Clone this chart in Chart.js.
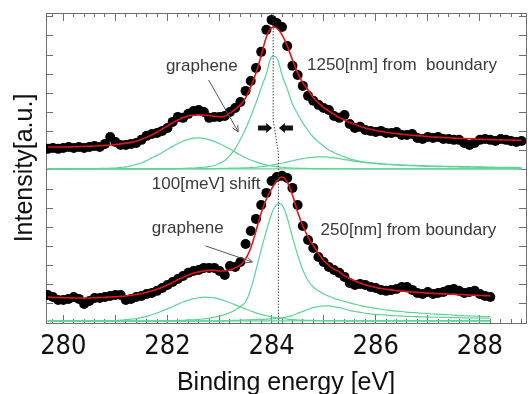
<!DOCTYPE html>
<html>
<head>
<meta charset="utf-8">
<script src="https://cdn.jsdelivr.net/npm/chart.js@4.4.1/dist/chart.umd.min.js"></script>
<style>
  html, body { margin: 0; padding: 0; background: #fff; }
</style>
</head>
<body>
<canvas id="xps" width="531" height="394"></canvas>
<script>
// binding energy grid [eV] (bottom spectrum uses the first 86 points)
var energy = [
  279.7, 279.8, 279.9, 280.0, 280.1, 280.2, 280.3, 280.4, 280.5, 280.6,
  280.7, 280.8, 280.9, 281.0, 281.1, 281.2, 281.3, 281.4, 281.5, 281.6,
  281.7, 281.8, 281.9, 282.0, 282.1, 282.2, 282.3, 282.4, 282.5, 282.6,
  282.7, 282.8, 282.9, 283.0, 283.1, 283.2, 283.3, 283.4, 283.5, 283.6,
  283.7, 283.8, 283.9, 284.0, 284.1, 284.2, 284.3, 284.4, 284.5, 284.6,
  284.7, 284.8, 284.9, 285.0, 285.1, 285.2, 285.3, 285.4, 285.5, 285.6,
  285.7, 285.8, 285.9, 286.0, 286.1, 286.2, 286.3, 286.4, 286.5, 286.6,
  286.7, 286.8, 286.9, 287.0, 287.1, 287.2, 287.3, 287.4, 287.5, 287.6,
  287.7, 287.8, 287.9, 288.0, 288.1, 288.2, 288.3, 288.4, 288.5, 288.6,
  288.7, 288.8
];

// 1250 nm from boundary (upper spectrum)
var topDots = [
  9.10, 9.15, 9.10, 9.15, 9.20, 9.15, 9.20, 9.15, 9.20, 9.25,
  9.20, 9.36, 9.72, 9.46, 9.30, 9.30, 9.36, 9.41, 9.57, 9.78,
  9.88, 9.93, 10.04, 10.19, 10.51, 10.77, 10.72, 10.93, 11.08, 11.13,
  11.03, 10.72, 10.77, 10.77, 10.82, 11.03, 11.24, 11.55, 12.13, 12.65,
  13.33, 14.17, 15.32, 15.84, 15.68, 15.47, 14.48, 13.44, 12.96, 12.39,
  11.87, 11.61, 11.40, 11.24, 11.13, 10.82, 10.72, 10.87, 10.40, 10.19,
  10.25, 10.09, 10.04, 9.98, 10.04, 9.93, 9.93, 9.98, 9.83, 9.83,
  9.88, 9.67, 9.62, 9.72, 9.67, 9.72, 9.62, 9.62, 9.57, 9.57,
  9.41, 9.30, 9.41, 9.57, 9.62, 9.57, 9.51, 9.62, 9.57, 9.51,
  9.46, 9.51
];
var topFit = [
  9.20, 9.20, 9.20, 9.20, 9.20, 9.21, 9.22, 9.23, 9.24, 9.25,
  9.26, 9.28, 9.30, 9.33, 9.36, 9.40, 9.44, 9.50, 9.59, 9.70,
  9.83, 9.98, 10.14, 10.30, 10.46, 10.61, 10.74, 10.82, 10.86, 10.87,
  10.86, 10.84, 10.80, 10.78, 10.80, 10.97, 11.17, 11.40, 11.76, 12.34,
  13.07, 13.96, 14.95, 15.43, 15.41, 15.06, 14.48, 13.75, 13.07, 12.55,
  12.18, 11.79, 11.50, 11.26, 11.08, 10.90, 10.74, 10.61, 10.48, 10.38,
  10.28, 10.19, 10.13, 10.06, 10.01, 9.97, 9.93, 9.90, 9.86, 9.84,
  9.81, 9.79, 9.77, 9.75, 9.72, 9.71, 9.69, 9.68, 9.66, 9.65,
  9.64, 9.63, 9.61, 9.60, 9.59, 9.58, 9.58, 9.57, 9.56, 9.56,
  9.55, 9.55
];
var topGraphene = [
  8.05, 8.05, 8.05, 8.05, 8.05, 8.06, 8.06, 8.06, 8.07, 8.07,
  8.08, 8.08, 8.09, 8.10, 8.13, 8.16, 8.21, 8.29, 8.36, 8.49,
  8.63, 8.76, 8.91, 9.07, 9.23, 9.37, 9.50, 9.59, 9.66, 9.67,
  9.65, 9.58, 9.49, 9.37, 9.24, 9.09, 8.93, 8.78, 8.64, 8.52,
  8.42, 8.33, 8.26, 8.21, 8.17, 8.14, 8.11, 8.10, 8.09, 8.08,
  8.08, 8.07, 8.07, 8.06, 8.06, 8.06, 8.06, 8.06, 8.06, 8.05,
  8.05, 8.05, 8.05, 8.05, 8.05, 8.05, 8.05, 8.05, 8.05, 8.05,
  8.05, 8.05, 8.05, 8.05, 8.05, 8.05, 8.05, 8.05, 8.05, 8.05,
  8.05, 8.05, 8.05, 8.05, 8.05, 8.05, 8.05, 8.05, 8.05, 8.05,
  8.05, 8.05
];
var topMain = [
  8.05, 8.05, 8.05, 8.05, 8.05, 8.05, 8.05, 8.05, 8.05, 8.05,
  8.05, 8.05, 8.05, 8.05, 8.05, 8.05, 8.05, 8.05, 8.05, 8.05,
  8.05, 8.05, 8.06, 8.06, 8.06, 8.07, 8.08, 8.09, 8.10, 8.12,
  8.14, 8.18, 8.23, 8.34, 8.49, 8.76, 9.10, 9.59, 10.14, 10.80,
  11.50, 12.29, 13.02, 13.91, 13.85, 12.96, 12.23, 11.45, 10.93, 10.46,
  10.06, 9.72, 9.46, 9.25, 9.04, 8.91, 8.78, 8.68, 8.58, 8.51,
  8.45, 8.41, 8.37, 8.34, 8.31, 8.29, 8.27, 8.26, 8.24, 8.23,
  8.22, 8.21, 8.20, 8.19, 8.18, 8.17, 8.17, 8.16, 8.16, 8.15,
  8.15, 8.14, 8.14, 8.13, 8.13, 8.12, 8.12, 8.11, 8.11, 8.11,
  8.10, 8.10
];
var topThird = [
  8.05, 8.05, 8.05, 8.05, 8.05, 8.05, 8.05, 8.05, 8.05, 8.05,
  8.05, 8.05, 8.05, 8.05, 8.05, 8.05, 8.05, 8.05, 8.05, 8.05,
  8.05, 8.05, 8.05, 8.05, 8.05, 8.06, 8.06, 8.06, 8.06, 8.06,
  8.07, 8.07, 8.07, 8.08, 8.08, 8.09, 8.09, 8.10, 8.11, 8.12,
  8.14, 8.17, 8.20, 8.24, 8.30, 8.35, 8.42, 8.48, 8.54, 8.59,
  8.64, 8.66, 8.68, 8.68, 8.66, 8.63, 8.59, 8.54, 8.50, 8.45,
  8.42, 8.38, 8.36, 8.34, 8.32, 8.30, 8.29, 8.27, 8.26, 8.25,
  8.24, 8.23, 8.22, 8.21, 8.20, 8.20, 8.19, 8.19, 8.18, 8.18,
  8.17, 8.17, 8.16, 8.16, 8.15, 8.15, 8.14, 8.14, 8.13, 8.13,
  8.12, 8.12
];

// 250 nm from boundary (lower spectrum)
var bottomDots = [
  1.46, 1.36, 1.20, 1.20, 1.26, 1.36, 1.26, 0.99, 1.15, 1.31,
  1.31, 1.36, 1.41, 1.46, 1.46, 1.20, 1.26, 1.36, 1.41, 1.52,
  1.57, 1.68, 1.83, 1.99, 2.14, 2.30, 2.46, 2.62, 2.72, 2.77,
  2.88, 2.88, 2.88, 2.72, 2.51, 2.98, 2.93, 3.19, 4.13, 4.81,
  5.44, 6.17, 6.80, 7.42, 7.63, 7.69, 7.58, 7.06, 6.17, 5.07,
  4.34, 3.92, 3.45, 3.19, 2.93, 2.77, 2.62, 2.41, 2.09, 1.99,
  2.04, 1.99, 1.88, 1.83, 1.73, 1.68, 1.73, 1.78, 1.88, 1.88,
  1.73, 1.57, 1.52, 1.62, 1.52, 1.57, 1.62, 1.73, 1.78, 1.68,
  1.57, 1.62, 1.68, 1.52, 1.41, 1.36
];
var bottomFit = [
  1.36, 1.34, 1.33, 1.32, 1.32, 1.31, 1.31, 1.31, 1.31, 1.32,
  1.33, 1.34, 1.36, 1.37, 1.39, 1.41, 1.45, 1.49, 1.54, 1.61,
  1.68, 1.76, 1.87, 1.99, 2.12, 2.26, 2.39, 2.51, 2.61, 2.67,
  2.72, 2.75, 2.75, 2.72, 2.72, 2.77, 2.88, 3.03, 3.35, 3.92,
  4.81, 5.75, 6.48, 7.00, 7.42, 7.63, 7.37, 6.69, 5.80, 5.07,
  4.50, 4.05, 3.64, 3.27, 3.01, 2.82, 2.67, 2.46, 2.33, 2.20,
  2.09, 2.00, 1.92, 1.86, 1.80, 1.76, 1.73, 1.69, 1.67, 1.64,
  1.62, 1.60, 1.58, 1.56, 1.55, 1.53, 1.52, 1.51, 1.50, 1.49,
  1.48, 1.46, 1.45, 1.44, 1.43, 1.42
];
var bottomGraphene = [
  0.10, 0.10, 0.10, 0.10, 0.10, 0.10, 0.10, 0.10, 0.10, 0.10,
  0.10, 0.10, 0.11, 0.13, 0.15, 0.17, 0.20, 0.23, 0.29, 0.35,
  0.43, 0.52, 0.63, 0.74, 0.86, 0.98, 1.10, 1.19, 1.27, 1.32,
  1.35, 1.34, 1.31, 1.25, 1.16, 1.06, 0.95, 0.84, 0.73, 0.63,
  0.53, 0.45, 0.38, 0.32, 0.27, 0.24, 0.20, 0.18, 0.16, 0.15,
  0.14, 0.13, 0.12, 0.12, 0.11, 0.11, 0.11, 0.10, 0.10, 0.10,
  0.10, 0.10, 0.10, 0.10, 0.10, 0.10, 0.10, 0.10, 0.10, 0.10,
  0.10, 0.10, 0.10, 0.10, 0.10, 0.10, 0.10, 0.10, 0.10, 0.10,
  0.10, 0.10, 0.10, 0.10, 0.10, 0.10
];
var bottomMain = [
  0.10, 0.10, 0.10, 0.10, 0.10, 0.10, 0.10, 0.10, 0.10, 0.10,
  0.10, 0.10, 0.10, 0.10, 0.10, 0.10, 0.10, 0.10, 0.10, 0.10,
  0.10, 0.10, 0.11, 0.11, 0.12, 0.13, 0.14, 0.16, 0.17, 0.19,
  0.22, 0.25, 0.30, 0.36, 0.44, 0.54, 0.68, 0.86, 1.10, 1.78,
  2.77, 3.82, 4.81, 5.70, 6.20, 6.17, 5.49, 4.50, 3.56, 2.77,
  2.22, 1.88, 1.68, 1.52, 1.40, 1.29, 1.20, 1.13, 1.05, 0.98,
  0.92, 0.86, 0.81, 0.76, 0.72, 0.69, 0.65, 0.62, 0.60, 0.57,
  0.55, 0.53, 0.51, 0.49, 0.47, 0.46, 0.44, 0.43, 0.41, 0.39,
  0.38, 0.37, 0.36, 0.35, 0.34, 0.33
];
var bottomThird = [
  0.10, 0.10, 0.10, 0.10, 0.10, 0.10, 0.10, 0.10, 0.10, 0.10,
  0.10, 0.10, 0.10, 0.10, 0.10, 0.10, 0.10, 0.10, 0.10, 0.10,
  0.10, 0.10, 0.10, 0.10, 0.10, 0.10, 0.10, 0.10, 0.10, 0.10,
  0.10, 0.10, 0.10, 0.10, 0.12, 0.13, 0.14, 0.15, 0.16, 0.17,
  0.18, 0.19, 0.20, 0.22, 0.24, 0.27, 0.32, 0.40, 0.50, 0.61,
  0.71, 0.80, 0.86, 0.89, 0.89, 0.85, 0.80, 0.73, 0.66, 0.60,
  0.56, 0.51, 0.48, 0.45, 0.43, 0.41, 0.39, 0.38, 0.36, 0.35,
  0.34, 0.33, 0.32, 0.31, 0.30, 0.30, 0.29, 0.29, 0.28, 0.28,
  0.27, 0.27, 0.26, 0.26, 0.25, 0.25
];

// flat backgrounds under the components
var topBaseE = [279.7, 288.8];
var topBase = [8.05, 8.05];
var bottomBaseE = [279.7, 288.2];
var bottomBase = [0.10, 0.13];

// the 100 meV shift guide
var shiftE = [284.03, 284.03, 284.13, 284.13];
var shiftV = [16.2, 10.61, 8.89, 0];

var xMin = 279.667, xMax = 288.886;
var yMin = 0, yMax = 16.2;

function pairs(xs, ys) {
  return ys.map(function (v, i) { return { x: xs[i], y: v }; });
}

var GREEN = "#5ed396";
var RED = "#e3141c";
var AXIS = "#6e6e6e";

// labels and arrows, positioned in data units
var notes = [
  { text: "graphene", x: 281.97, y: 13.17 },
  { text: "1250[nm] from  boundary", x: 284.68, y: 13.23 },
  { text: "100[meV] shift", x: 281.70, y: 7.00 },
  { text: "graphene", x: 281.70, y: 4.70 },
  { text: "250[nm] from boundary", x: 284.94, y: 4.60 }
];
var pointers = [
  { x1: 282.79, y1: 12.70, x2: 283.36, y2: 9.99 },
  { x1: 282.73, y1: 4.03, x2: 283.63, y2: 3.19 }
];
var shiftArrows = [
  { from: 283.74, to: 284.01, y: 10.19 },
  { from: 284.41, to: 284.14, y: 10.19 }
];

var annotate = {
  id: "annotate",
  afterDatasetsDraw: function (chart) {
    var ctx = chart.ctx, xs = chart.scales.x, ys = chart.scales.y;
    ctx.save();
    ctx.font = '17px "Liberation Sans", Arial, sans-serif';
    ctx.fillStyle = "#3a3a3a";
    ctx.textBaseline = "alphabetic";
    ctx.textAlign = "left";
    notes.forEach(function (n) {
      ctx.fillText(n.text, xs.getPixelForValue(n.x), ys.getPixelForValue(n.y));
    });

    // thin grey pointers
    ctx.strokeStyle = "#555";
    ctx.lineWidth = 1;
    pointers.forEach(function (p) {
      var ax = xs.getPixelForValue(p.x1), ay = ys.getPixelForValue(p.y1);
      var bx = xs.getPixelForValue(p.x2), by = ys.getPixelForValue(p.y2);
      var a = Math.atan2(by - ay, bx - ax), h = 7;
      ctx.beginPath();
      ctx.moveTo(ax, ay);
      ctx.lineTo(bx, by);
      ctx.moveTo(bx - h * Math.cos(a - 0.45), by - h * Math.sin(a - 0.45));
      ctx.lineTo(bx, by);
      ctx.lineTo(bx - h * Math.cos(a + 0.45), by - h * Math.sin(a + 0.45));
      ctx.stroke();
    });

    // black arrows pointing at the shift line
    ctx.fillStyle = "#111";
    shiftArrows.forEach(function (s) {
      var x1 = xs.getPixelForValue(s.from), x2 = xs.getPixelForValue(s.to);
      var y = ys.getPixelForValue(s.y);
      var dir = x2 > x1 ? 1 : -1, head = 6;
      ctx.beginPath();
      ctx.moveTo(x1, y - 2.5);
      ctx.lineTo(x2 - dir * head, y - 2.5);
      ctx.lineTo(x2 - dir * head, y - 5);
      ctx.lineTo(x2, y);
      ctx.lineTo(x2 - dir * head, y + 5);
      ctx.lineTo(x2 - dir * head, y + 2.5);
      ctx.lineTo(x1, y + 2.5);
      ctx.closePath();
      ctx.fill();
    });
    ctx.restore();
  }
};

function fitLine(data, color, width) {
  return {
    data: data,
    borderColor: color,
    borderWidth: width,
    pointRadius: 0,
    tension: 0.4,
    fill: false
  };
}

function dots(data) {
  return {
    data: data,
    showLine: false,
    pointRadius: 5,
    pointBackgroundColor: "#000",
    pointBorderWidth: 0
  };
}

function tickAxis(position, step, len, weight) {
  return {
    type: "linear",
    position: position,
    min: position === "left" || position === "right" ? yMin : xMin,
    max: position === "left" || position === "right" ? yMax : xMax,
    weight: weight,
    ticks: { display: false, stepSize: step, includeBounds: false },
    grid: { drawOnChartArea: false, tickLength: len, color: AXIS },
    border: { color: AXIS },
    afterFit: function (s) {
      if (s.isHorizontal()) s.height = 0; else s.width = 0;
    }
  };
}

var ctx = document.getElementById("xps");

new Chart(ctx, {
  type: "line",
  data: {
    datasets: [
      // drawn last = on top
      {
        data: pairs(shiftE, shiftV),
        borderColor: "#444",
        borderWidth: 1,
        borderDash: [1.5, 1.5],
        pointRadius: 0,
        tension: 0
      },
      fitLine(pairs(energy, topFit), RED, 1.6),
      fitLine(pairs(energy, bottomFit), RED, 1.6),
      dots(pairs(energy, topDots)),
      dots(pairs(energy, bottomDots)),
      fitLine(pairs(energy, topGraphene), GREEN, 1.2),
      fitLine(pairs(energy, topMain), GREEN, 1.2),
      fitLine(pairs(energy, topThird), GREEN, 1.2),
      fitLine(pairs(energy, bottomGraphene), GREEN, 1.2),
      fitLine(pairs(energy, bottomMain), GREEN, 1.2),
      fitLine(pairs(energy, bottomThird), GREEN, 1.2),
      fitLine(pairs(topBaseE, topBase), GREEN, 1.2),
      fitLine(pairs(bottomBaseE, bottomBase), GREEN, 1.2)
    ]
  },
  options: {
    responsive: false,
    animation: false,
    devicePixelRatio: 1,
    layout: { padding: { top: 13, right: 1, left: 0, bottom: 0 } },
    plugins: {
      legend: { display: false },
      tooltip: { enabled: false }
    },
    scales: {
      x: {
        type: "linear",
        position: "bottom",
        min: xMin,
        max: xMax,
        weight: 1,
        ticks: {
          stepSize: 1,
          includeBounds: false,
          autoSkip: false,
          maxRotation: 0,
          padding: 16,
          color: "#111",
          font: { family: '"Liberation Sans Narrow", "DejaVu Sans Condensed", sans-serif', size: 27 },
          callback: function (v) { return v % 2 === 0 ? String(v) : ""; }
        },
        grid: { drawOnChartArea: false, tickLength: -8, color: AXIS },
        border: { color: AXIS },
        title: {
          display: true,
          text: "Binding energy [eV]",
          color: "#111",
          font: { family: '"Liberation Sans", Arial, sans-serif', size: 25, lineHeight: 0.6 },
          padding: { top: 0, bottom: 3 }
        },
        afterFit: function (s) { s.height = 71; }
      },
      xMinor: tickAxis("bottom", 0.2, -4, 0),
      xTop: tickAxis("top", 0.2, -4, 0),
      xTopMajor: tickAxis("top", 1, -8, 1),
      y: {
        type: "linear",
        position: "left",
        min: yMin,
        max: yMax,
        ticks: { display: false, stepSize: 1, includeBounds: false },
        grid: { drawOnChartArea: false, tickLength: -7, color: AXIS },
        border: { color: AXIS },
        title: {
          display: true,
          text: "Intensity[a.u.]",
          color: "#111",
          font: { family: '"Liberation Sans", Arial, sans-serif', size: 25 },
          padding: { top: 10, bottom: 0 }
        },
        afterFit: function (s) { s.width = 46; }
      },
      yRight: tickAxis("right", 1, -7, 0)
    }
  },
  plugins: [annotate]
});
</script>
</body>
</html>
